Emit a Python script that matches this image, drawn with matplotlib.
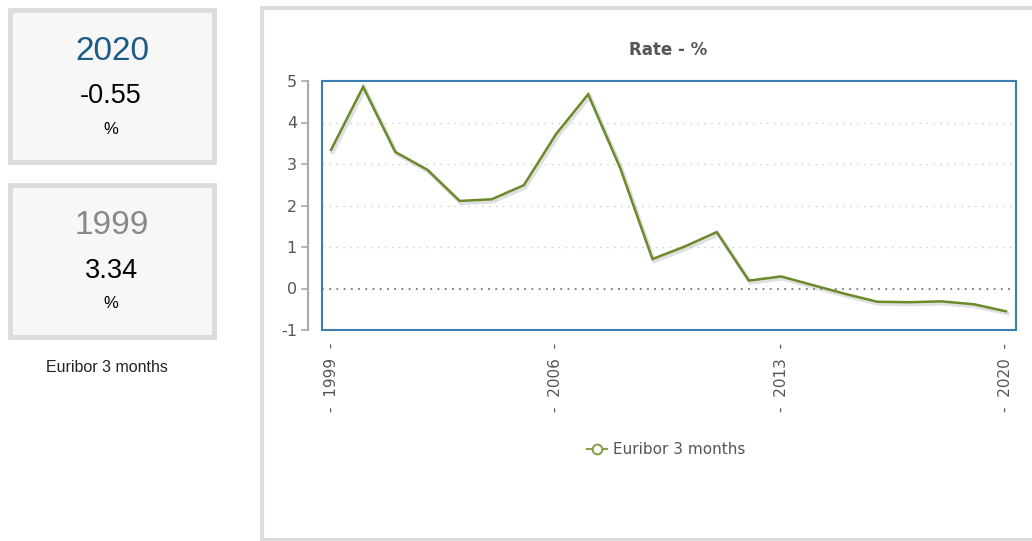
import matplotlib
matplotlib.use("Agg")
import matplotlib.pyplot as plt
import matplotlib.patheffects as pe
from matplotlib.patches import Rectangle
from matplotlib.lines import Line2D

# Euribor 3 months, yearly rate in %
years = list(range(1999, 2021))
rates = [3.34, 4.86, 3.29, 2.86, 2.11, 2.15, 2.49, 3.72, 4.68, 2.90, 0.71,
         1.01, 1.36, 0.19, 0.29, 0.08, -0.13, -0.32, -0.33, -0.31, -0.38, -0.55]
series_name = "Euribor 3 months"
chart_title = "Rate - %"
year_ticks = [1999, 2006, 2013, 2020]
y_ticks = [-1, 0, 1, 2, 3, 4, 5]

latest_year, latest_value = years[-1], rates[-1]
first_year, first_value = years[0], rates[0]

W, H = 1032, 541
fig = plt.figure(figsize=(W / 100, H / 100), dpi=100)
fig.patch.set_facecolor("white")


def fx(px):
    return px / W


def fy(py):
    return 1 - py / H


# --- summary cards on the left ---
card_font = "Liberation Sans"
for (top, yr, val, ycol) in [(10, latest_year, latest_value, "#1b5b86"),
                             (185, first_year, first_value, "#888888")]:
    fig.patches.append(Rectangle((fx(10), fy(top + 152)), fx(204), 152 / H,
                                 transform=fig.transFigure, facecolor="#f7f7f7",
                                 edgecolor="#dcdcdc", linewidth=3.5, zorder=-2))
    fig.text(fx(112), fy(top + 41), str(yr), ha="center", va="center",
             fontsize=24, color=ycol, family=card_font)
    fig.text(fx(111), fy(top + 86), f"{val:.2f}", ha="center", va="center",
             fontsize=19.5, color="black", family=card_font)
    fig.text(fx(111), fy(top + 119), "%", ha="center", va="center",
             fontsize=12, color="black", family=card_font)

fig.text(fx(107), fy(368), series_name, ha="center", va="center",
         fontsize=11.5, color="#222222", family=card_font)

# --- chart container ---
fig.patches.append(Rectangle((fx(262), fy(540)), fx(780), 532 / H,
                             transform=fig.transFigure, facecolor="white",
                             edgecolor="#dcdcdc", linewidth=3, zorder=-2))

fig.text(fx(668), fy(50), chart_title, ha="center", va="center",
         fontsize=12, fontweight="bold", color="#555555", family="DejaVu Sans")

# --- line chart ---
left, right, top, bottom = 322, 1016, 81, 330
ax = fig.add_axes([fx(left), fy(bottom), fx(right - left), (bottom - top) / H])
ax.set_zorder(1)
ax.set_facecolor("white")

span = 21 * (right - left) / (1006 - 331)
x0 = 1999 - (331 - left) / (1006 - 331) * 21
ax.set_xlim(x0, x0 + span)
ax.set_ylim(-1, 5)

for v in y_ticks:
    if v in (-1, 5):
        continue
    if v == 0:
        ax.axhline(v, color="#777777", linewidth=1.3, linestyle=(0, (1, 3)), zorder=1)
    else:
        ax.axhline(v, color="#cccccc", linewidth=1.0, linestyle=(0, (1, 4)), zorder=1)

ax.plot(years, rates, color="#6b8a2b", linewidth=1.8, zorder=3,
        solid_joinstyle="miter",
        path_effects=[pe.SimpleLineShadow(offset=(1.2, -1.5), shadow_color="#999999",
                                          alpha=0.3, linewidth=3.0),
                      pe.Normal()])

for s in ["top", "right", "bottom"]:
    ax.spines[s].set_visible(False)
ax.add_patch(Rectangle((0, 0), 1, 1, transform=ax.transAxes, fill=False,
                       edgecolor="#3b7fb0", linewidth=1.5, zorder=5, clip_on=False))

ax.spines["left"].set_position(("outward", 10))
ax.spines["left"].set_color("#aaaaaa")
ax.spines["left"].set_linewidth(1.5)
ax.set_yticks(y_ticks)
ax.set_yticklabels([str(v) for v in y_ticks])
ax.tick_params(axis="y", direction="out", length=5, width=1.2, color="#aaaaaa",
               labelsize=11.5, labelcolor="#555555", pad=3)

ax.set_xticks(year_ticks)
ax.set_xticklabels([f"-  {y}  -" for y in year_ticks], rotation=90,
                   fontsize=11, color="#555555")
ax.tick_params(axis="x", length=0, pad=9)

# legend below the chart
handle = Line2D([], [], color="#8aa050", marker="o", markersize=7,
                markerfacecolor="white", markeredgecolor="#8aa050",
                markeredgewidth=1.5, linewidth=1.5)
fig.legend([handle], [series_name], loc="center", bbox_to_anchor=(fx(666), fy(450)),
           frameon=False, fontsize=11, labelcolor="#555555", handlelength=1.3,
           handletextpad=0.4)

fig.savefig("out.png", dpi=100)
